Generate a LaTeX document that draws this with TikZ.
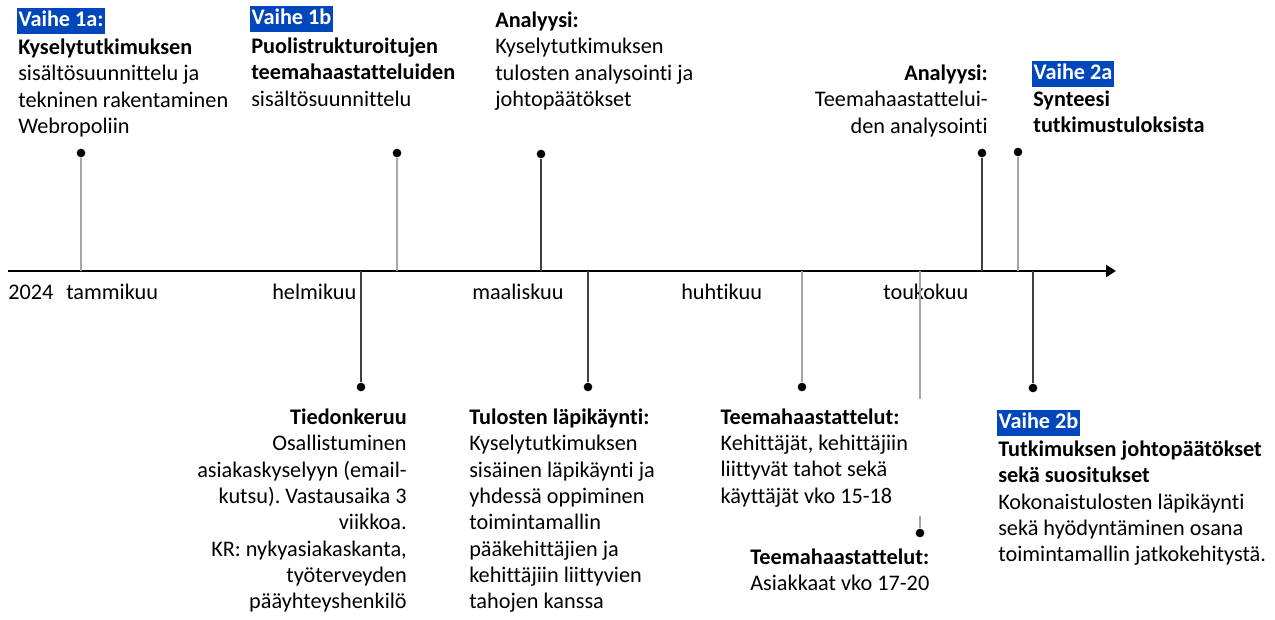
\documentclass[tikz,border=0pt]{standalone}
\usepackage{fontspec}
\setmainfont{Carlito}[Ligatures=NoCommon]
\usetikzlibrary{arrows.meta}
\frenchspacing
\definecolor{vaihe}{RGB}{0,71,187}
\definecolor{stemgray}{RGB}{166,166,166}
\definecolor{stemdark}{RGB}{64,64,64}
\tikzset{
  txt/.style={inner sep=0pt, align=left, anchor=north west, font=\fontsize{16.7}{19.75}\selectfont},
  txtr/.style={txt, align=right, anchor=north east},
  phase/.style={fill=vaihe, text=white, inner xsep=1pt, inner ysep=1pt, text height=13pt, text depth=4pt, anchor=north west, font=\fontsize{16.7}{19.75}\selectfont\bfseries},
  dot/.style={circle, fill=black, inner sep=0pt, minimum size=6.5pt},
  stemlight/.style={draw=stemgray, line width=1pt},
  stemdk/.style={draw=stemdark, line width=1pt},
  month/.style={inner sep=0pt, anchor=base west, font=\fontsize{16.7}{19.75}\selectfont},
}
\begin{document}
\begin{tikzpicture}[x=0.75pt,y=-0.75pt]
  \useasboundingbox (0,0) rectangle (1275,619);

  % Drawing time axis
  \coordinate (axstart) at (8,271);%
  \coordinate (axend) at (1116,271);%
  \draw [line width=1.9pt, -{Triangle[length=7.5pt,width=9pt]}] (axstart) -- (axend);%

  % Marking months
  \node [month] (y2024) at (8,299) {2024};%
  \node [month] (tammi) at (66,299) {tammikuu};%
  \node [month] (helmi) at (272,299) {helmikuu};%
  \node [month] (maalis) at (472,299) {maaliskuu};%
  \node [month] (huhti) at (681,299) {huhtikuu};%
  \node [month] (touko) at (883,299) {toukokuu};%

  % Marking events above the axis by dot
  \coordinate (a1a) at (81,271);   \node [dot] (d1a) at (81,153) {};%
  \coordinate (a1b) at (397,271);  \node [dot] (d1b) at (397,153) {};%
  \coordinate (aan1) at (541,271); \node [dot] (dan1) at (541,154) {};%
  \coordinate (aan2) at (982,271); \node [dot] (dan2) at (982,153) {};%
  \coordinate (a2a) at (1018,271); \node [dot] (d2a) at (1018,152) {};%

  % Marking events below the axis by dot
  \coordinate (atk) at (361,271);  \node [dot] (dtk) at (361,387) {};%
  \coordinate (atl) at (588,271);  \node [dot] (dtl) at (588,387) {};%
  \coordinate (ate1) at (802,271); \node [dot] (dte1) at (802,387) {};%
  \coordinate (ate2) at (920,271); \node [dot] (dte2) at (920,533) {};%
  \coordinate (a2b) at (1033,271); \node [dot] (d2b) at (1033,388) {};%

  % Drawing stems
  \draw [stemlight] (a1a) -- (d1a);%
  \draw [stemlight] (a1b) -- (d1b);%
  \draw [stemdk] (aan1) -- (dan1);%
  \draw [stemdk] (aan2) -- (dan2);%
  \draw [stemlight] (a2a) -- (d2a);%
  \draw [stemdk] (atk) -- (dtk);%
  \draw [stemdk] (atl) -- (dtl);%
  \draw [stemlight] (ate1) -- (dte1);%
  \draw [stemlight] (ate2) -- (dte2);%
  \draw [stemdk] (a2b) -- (d2b);%

  % Vaihe 1a
  \node [phase] (p1a) at (17,8) {Vaihe 1a:};%
  \node [txt] (t1a) at (18,38.5) {\textbf{Kyselytutkimuksen}\\sisältösuunnittelu ja\\tekninen rakentaminen\\Webropoliin};%

  % Vaihe 1b
  \node [phase] (p1b) at (250,6) {Vaihe 1b};%
  \node [txt] (t1b) at (251,37.5) {\textbf{Puolistrukturoitujen}\\\textbf{teemahaastatteluiden}\\sisältösuunnittelu};%

  % Analyysi of the survey
  \node [txt] (tan1) at (495,11.5) {\textbf{Analyysi:}\\Kyselytutkimuksen\\tulosten analysointi ja\\johtopäätökset};%

  % Analyysi of the interviews
  \node [txtr] (tan2) at (988,64.5) {\textbf{Analyysi:}\\Teemahaastattelui-\\den analysointi};%

  % Vaihe 2a
  \node [phase] (p2a) at (1032,61) {Vaihe 2a};%
  \node [txt] (t2a) at (1033,90.5) {\textbf{Synteesi}\\\textbf{tutkimustuloksista}};%

  % Tiedonkeruu
  \node [txtr] (ttk) at (407,408.5) {\textbf{Tiedonkeruu}\\Osallistuminen\\asiakaskyselyyn (email-\\kutsu). Vastausaika 3\\viikkoa.\\KR: nykyasiakaskanta,\\työterveyden\\pääyhteyshenkilö};%

  % Tulosten läpikäynti
  \node [txt] (ttl) at (469,408.5) {\textbf{Tulosten läpikäynti:}\\Kyselytutkimuksen\\sisäinen läpikäynti ja\\yhdessä oppiminen\\toimintamallin\\pääkehittäjien ja\\kehittäjiin liittyvien\\tahojen kanssa};%

  % Teemahaastattelut, developers (white box over the stem)
  \node [txt, fill=white, inner xsep=16pt, inner ysep=7pt] (tte1) at (699,399) {\textbf{Teemahaastattelut:}\\Kehittäjät, kehittäjiin\\liittyvät tahot sekä\\käyttäjät vko 15-18};%

  % Teemahaastattelut, customers
  \node [txt] (tte2) at (750,548.5) {\textbf{Teemahaastattelut:}\\Asiakkaat vko 17-20};%

  % Vaihe 2b
  \node [phase] (p2b) at (997,410) {Vaihe 2b};%
  \node [txt] (t2b) at (998,440.5) {\textbf{Tutkimuksen johtopäätökset}\\\textbf{sekä suositukset}\\Kokonaistulosten läpikäynti\\sekä hyödyntäminen osana\\toimintamallin jatkokehitystä.};%
\end{tikzpicture}
\end{document}
